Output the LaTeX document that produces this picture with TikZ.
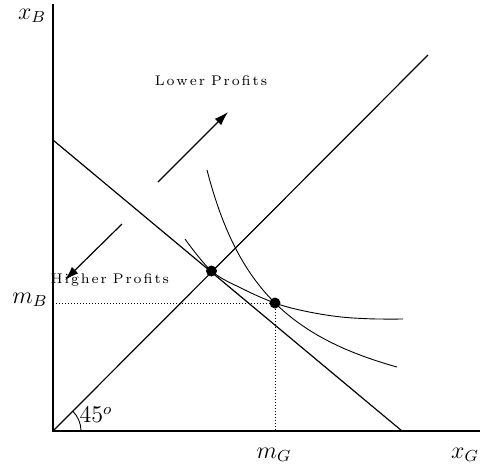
\documentclass[tikz,border=0pt]{standalone}
\usepackage{fontspec}
\usetikzlibrary{arrows.meta}
\ExplSyntaxOn
\NewDocumentCommand\spacedword{m}{ \tl_map_inline:nn {#1} { ##1 \kern 0.95pt } \unkern }
\ExplSyntaxOff
\tikzset{
  axis/.style={line width=0.6pt},
  mainline/.style={line width=0.6pt},
  curve/.style={line width=0.45pt},
  guide/.style={line width=0.5pt, dash pattern=on 0.5pt off 1pt},
  dot/.style={circle, fill=black, inner sep=0pt, minimum size=5.5pt},
  lab/.style={font=\fontsize{12}{14}\selectfont, inner sep=0pt},
  txt/.style={font=\fontsize{7}{8}\selectfont, inner sep=0pt},
  arr/.style={line width=0.6pt, -{Latex[length=7pt,width=4.5pt]}}
}
\begin{document}
\begin{tikzpicture}[x=0.5pt,y=-0.5pt]
\useasboundingbox (0,0) rectangle (480,468);
% axes
\coordinate (O) at (53,431);
\coordinate (yT) at (53,4);
\coordinate (xR) at (480,431);
\draw[axis] (yT) -- (O) -- (xR);
% 45 degree line
\coordinate (D) at (428,55);
\draw[mainline] (O) -- (D);
% downward line
\coordinate (L1) at (53,140);
\coordinate (L2) at (402,431);
\draw[mainline] (L1) -- (L2);
% points
\node[dot] (A) at (211.5,271) {};
\node[dot] (E) at (275,303) {};
% curves
\draw[curve] plot[smooth, tension=0.6] coordinates {(185,239) (211.5,271) (243,289) (275,303) (303,310.7) (337,316.5) (370,318.8) (403,319)};
\draw[curve] plot[domain=207:397, samples=80] (\x, {439.2 - 187.49/((\x-137.35)/100)});
% dotted guides
\coordinate (mBa) at (53,303);
\coordinate (mGa) at (275,431);
\draw[guide] (mBa) -- (E.center) -- (mGa);
% angle
\draw[curve] (O) ++(28,0) arc[start angle=0, end angle=-45, radius=28];
% arrows
\coordinate (u1) at (158,182);
\coordinate (u2) at (228,112);
\draw[arr] (u1) -- (u2);
\coordinate (d1) at (122,224);
\coordinate (d2) at (65,280);
\draw[arr] (d1) -- (d2);
% labels
\node[lab] (xB) at (32,16) {$x_B$};
\node[lab] (mB) at (30,300) {$m_B$};
\node[lab] (mG) at (274,455) {$m_G$};
\node[lab] (xG) at (465,455) {$x_G$};
\node[lab] (ang) at (96,415) {$45^o$};
\node[txt] (lp) at (211,81) {\spacedword{Lower}\hspace{3pt}\spacedword{Pro{fi}ts}};
\node[txt] (hp) at (110,280) {\spacedword{Higher}\hspace{3pt}\spacedword{Pro{fi}ts}};
\end{tikzpicture}
\end{document}
